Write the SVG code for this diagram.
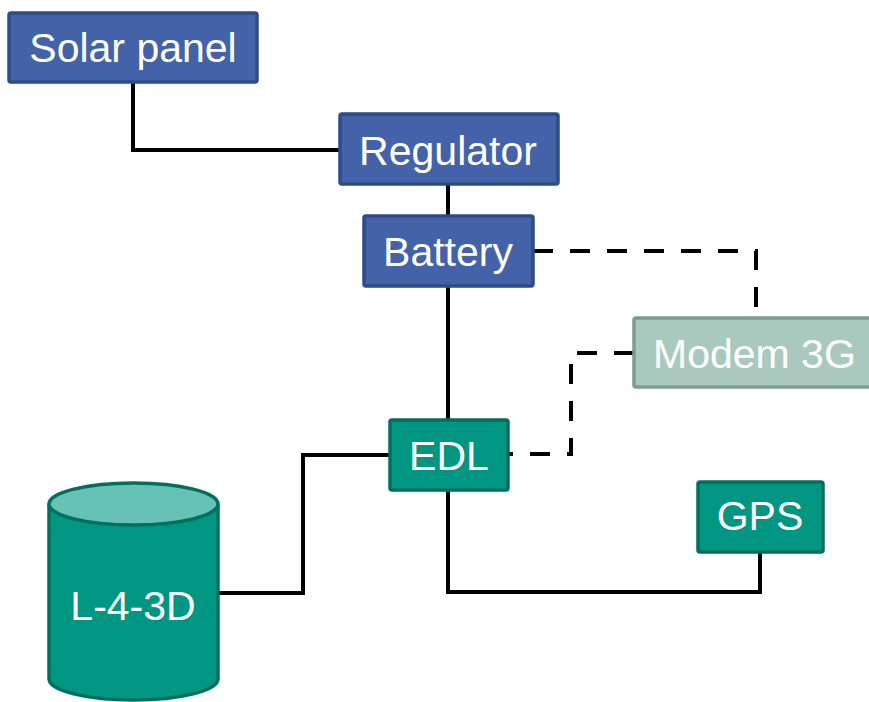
<svg xmlns="http://www.w3.org/2000/svg" width="869" height="702" viewBox="0 0 869 702">
<style>
.blue{fill:#4462A8;stroke:#2F4C86;stroke-width:3.5}
.teal{fill:#009681;stroke:#006F5E;stroke-width:3.5}
.modem{fill:#A9C9BF;stroke:#7F9A92;stroke-width:3.5}
.lbl{font-family:"Liberation Sans",Arial,sans-serif;font-size:41px;fill:#FFFFFF;text-anchor:middle}
.solid{fill:none;stroke:#000;stroke-width:4}
.dash{fill:none;stroke:#000;stroke-width:4;stroke-dasharray:20 17}
</style>
<rect width="869" height="702" fill="#FFFFFF"/>
<g id="connectors">
<polyline class="solid" points="133,82 133,150 340,150"/>
<line class="solid" x1="448" y1="184" x2="448" y2="216"/>
<line class="solid" x1="448" y1="286" x2="448" y2="420"/>
<polyline class="solid" points="390,455 303,455 303,593 218,593"/>
<polyline class="solid" points="448,490 448,592 760,592 760,552"/>
<polyline class="dash" points="533,251 756,251 756,318"/>
<polyline class="dash" points="634,353 571,353 571,454 508,454"/>
</g>
<g id="solar-panel">
<rect class="blue" x="9" y="13" width="248" height="69" rx="2"/>
<text class="lbl" x="133" y="62">Solar panel</text>
</g>
<g id="regulator">
<rect class="blue" x="340" y="114" width="218" height="70" rx="2"/>
<text class="lbl" x="448" y="165">Regulator</text>
</g>
<g id="battery">
<rect class="blue" x="364" y="216" width="169" height="70" rx="2"/>
<text class="lbl" x="448" y="266">Battery</text>
</g>
<g id="modem-3g">
<rect class="modem" x="634" y="318" width="250" height="69" rx="2"/>
<text class="lbl" x="653" y="368" style="text-anchor:start">Modem 3G</text>
</g>
<g id="edl">
<rect class="teal" x="390" y="420" width="118" height="70" rx="2"/>
<text class="lbl" x="449" y="470">EDL</text>
</g>
<g id="gps">
<rect class="teal" x="698" y="482" width="125" height="70" rx="2"/>
<text class="lbl" x="760" y="530">GPS</text>
</g>
<g id="l-4-3d">
<path class="teal" d="M49,504 L49,679 A84.5,21 0 0 0 218,679 L218,504"/>
<ellipse cx="133.5" cy="504" rx="84.5" ry="21" fill="#66C2B4" stroke="#006F5E" stroke-width="3.5"/>
<text class="lbl" x="133" y="620">L-4-3D</text>
</g>
</svg>
